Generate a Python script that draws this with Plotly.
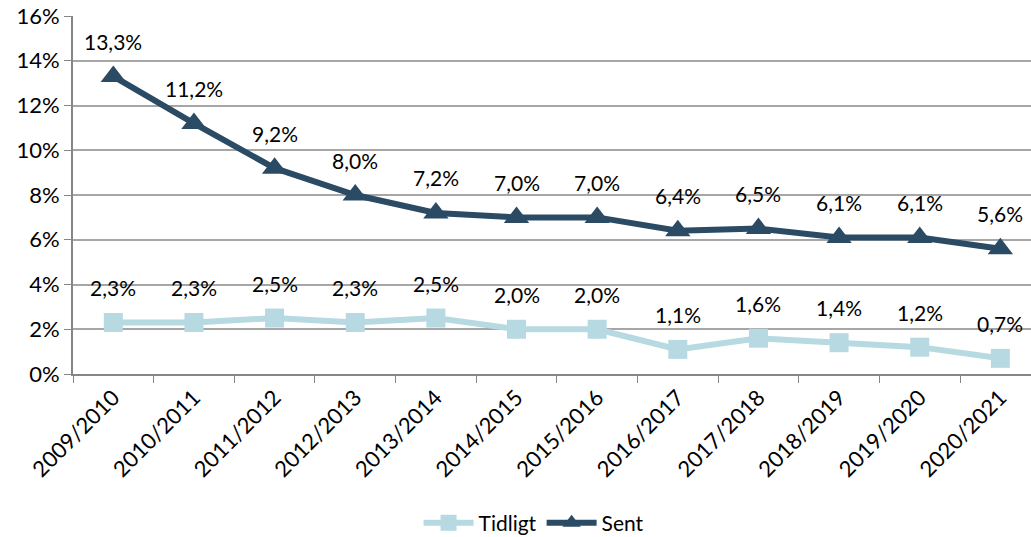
import plotly.graph_objects as go

categories = ["2009/2010", "2010/2011", "2011/2012", "2012/2013", "2013/2014", "2014/2015",
              "2015/2016", "2016/2017", "2017/2018", "2018/2019", "2019/2020", "2020/2021"]
tidligt = [2.3, 2.3, 2.5, 2.3, 2.5, 2.0, 2.0, 1.1, 1.6, 1.4, 1.2, 0.7]
sent = [13.3, 11.2, 9.2, 8.0, 7.2, 7.0, 7.0, 6.4, 6.5, 6.1, 6.1, 5.6]

FONT = "Lato, Calibri, Carlito, sans-serif"
light = "#B7D9E2"
dark = "#2B4A63"

fig = go.Figure()
fig.add_trace(go.Scatter(x=categories, y=tidligt, name="Tidligt", mode="lines+markers",
                         line=dict(color=light, width=6),
                         marker=dict(symbol="square", size=19, color=light)))
fig.add_trace(go.Scatter(x=categories, y=sent, name="Sent", mode="lines+markers",
                         line=dict(color=dark, width=6),
                         marker=dict(symbol="triangle-up", size=22, color=dark)))

def fmt(v):
    return f"{v:.1f}".replace(".", ",") + "%"

annotations = []
for series in (tidligt, sent):
    for c, v in zip(categories, series):
        annotations.append(dict(x=c, y=v, text=fmt(v), showarrow=False, yshift=35,
                                font=dict(family=FONT, size=21, color="#000000")))

fig.update_layout(
    width=1031, height=537,
    margin=dict(l=73, r=0, t=16, b=163, autoexpand=False),
    paper_bgcolor="white", plot_bgcolor="white",
    font=dict(family=FONT, size=21, color="#000000"),
    annotations=annotations,
    showlegend=True,
    legend=dict(orientation="h", x=0.518, xanchor="center", xref="container",
                y=0.026, yanchor="middle", yref="container",
                font=dict(family=FONT, size=21, color="#000000"), itemwidth=50),
    xaxis=dict(type="category", range=[-0.5, 11.38], tickangle=-45, automargin=False,
               showline=True, linecolor="#868686", linewidth=2,
               ticks="outside", tickson="boundaries", ticklen=7, tickcolor="#868686",
               showgrid=False, tickfont=dict(family=FONT, size=22)),
    yaxis=dict(range=[0, 16], dtick=2, ticksuffix="%", automargin=False,
               showline=True, linecolor="#868686", linewidth=2,
               ticks="outside", ticklen=7, tickcolor="#868686",
               showgrid=True, gridcolor="#A6A6A6", gridwidth=1.5,
               zeroline=False, tickfont=dict(family=FONT, size=22)),
)

fig.write_html("out.html", config={"displayModeBar": False},
               post_script="document.body.style.margin='0';document.body.style.overflow='hidden';")
